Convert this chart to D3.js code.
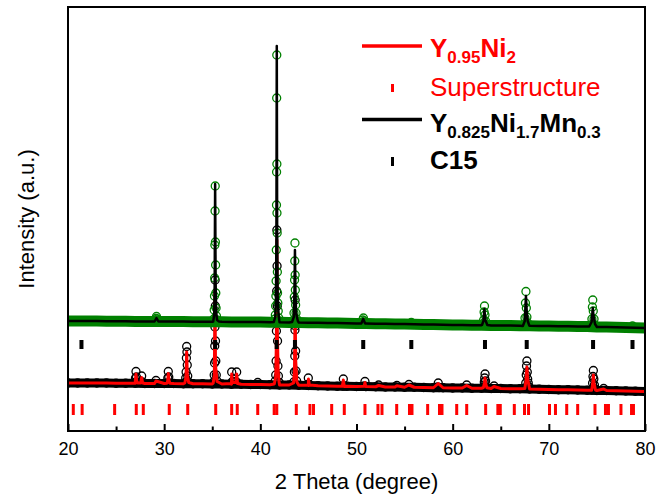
<!DOCTYPE html>
<html>
<head>
<meta charset="utf-8">
<script src="https://cdn.jsdelivr.net/npm/d3@7"></script>
<style>
	body { margin: 0; background: #fff; }
	svg { display: block; font-family: "Liberation Sans", Arial, sans-serif; }
</style>
</head>
<body>
<svg id="chart" width="666" height="494"></svg>
<script>
var xTicks = [20, 30, 40, 50, 60, 70, 80];
var xMinorTicks = [25, 35, 45, 55, 65, 75];

// flat background, one reading per degree from 20 to 80
var upperBackground = [
	220, 220, 220, 220, 219.5, 219.5, 219.5, 219, 219, 219, 219,
	219, 219, 218.5, 218.5, 218.5, 218.5, 218, 218, 218, 218,
	217.5, 217.5, 217, 217, 216.5, 216.5, 216, 216, 215.5, 215,
	215, 214.5, 214.5, 214, 214, 213.5, 213, 213, 212.5, 212,
	212, 211.5, 211.5, 211, 211, 211, 210.5, 210.5, 210, 210,
	209.5, 209.5, 209, 209, 208, 208, 207.5, 207, 206.5, 206
];
var lowerBackground = [
	96, 96, 96, 96, 96, 95.5, 95.5, 95.5, 95, 95, 95,
	95, 94.5, 94.5, 94.5, 94, 94, 93.5, 93.5, 93, 93,
	92.5, 92, 92, 91.5, 91, 90.5, 90, 89.5, 89.5, 89,
	89, 88.5, 88, 88, 87.5, 87.5, 87, 86.5, 86.5, 86,
	86, 85.5, 85.5, 85, 85, 84.5, 84.5, 84, 83.5, 83,
	82.5, 82.5, 82, 81.5, 81, 81, 80.5, 80, 79.5, 79
];

// Y0.825Ni1.7Mn0.3 (upper pattern), [2theta, intensity]
var upperObsPeaks = [
	[29.05, 219], [29.15, 225], [29.2, 229], [29.27, 224], [29.4, 219],
	[35.16, 224], [35.2, 242], [35.23, 270], [35.25, 306], [35.27, 372], [35.29, 440], [35.31, 490],
	[35.33, 378], [35.35, 332], [35.37, 276], [35.4, 246], [35.44, 230], [35.5, 222],
	[41.52, 224], [41.56, 232], [41.59, 250], [41.62, 270], [41.64, 300], [41.66, 362], [41.68, 452],
	[41.69, 518], [41.7, 666], [41.71, 752], [41.72, 534], [41.73, 436], [41.75, 396], [41.77, 318],
	[41.79, 276], [41.82, 256], [41.86, 240], [41.92, 226], [41.97, 220],
	[43.46, 222], [43.5, 236], [43.53, 268], [43.56, 302], [43.58, 340], [43.6, 376], [43.62, 312],
	[43.64, 282], [43.67, 252], [43.71, 236], [43.78, 224],
	[50.55, 216], [50.65, 222], [50.72, 226], [50.8, 220], [50.9, 215],
	[55.7, 217],
	[63.15, 214], [63.22, 222], [63.27, 238], [63.31, 250], [63.36, 232], [63.42, 220], [63.5, 213],
	[67.45, 214], [67.52, 226], [67.57, 256], [67.62, 279], [67.66, 246], [67.72, 228], [67.8, 216], [67.9, 211],
	[74.4, 212], [74.48, 224], [74.53, 248], [74.57, 262], [74.62, 240], [74.7, 224], [74.8, 212],
	[78.7, 210]
];
var upperCalcPeaks = [
	[29.0, 219], [29.2, 226], [29.4, 219],
	[35.1, 219], [35.2, 232], [35.25, 290], [35.3, 494], [35.35, 300], [35.4, 240], [35.5, 222], [35.7, 219],
	[41.4, 218], [41.55, 228], [41.62, 260], [41.67, 380], [41.71, 770], [41.75, 400], [41.8, 270], [41.9, 232], [41.98, 220],
	[43.3, 218], [43.48, 228], [43.55, 280], [43.6, 362], [43.65, 280], [43.72, 236], [43.9, 220],
	[50.5, 215], [50.7, 224], [50.9, 215],
	[63.05, 212], [63.2, 220], [63.3, 244], [63.4, 222], [63.6, 212],
	[67.3, 210], [67.5, 220], [67.62, 270], [67.7, 240], [67.8, 220], [67.97, 211],
	[74.2, 209], [74.45, 218], [74.57, 246], [74.65, 230], [74.8, 214], [74.97, 209]
];

// Y0.95Ni2 (lower pattern)
var lowerObsPeaks = [
	[26.95, 97], [27.02, 106], [27.07, 119], [27.12, 108], [27.2, 97],
	[27.58, 97], [27.66, 110], [27.74, 98],
	[29.15, 101],
	[30.3, 96], [30.38, 106], [30.43, 119], [30.48, 108], [30.56, 96],
	[32.18, 97], [32.24, 106], [32.28, 118], [32.31, 146], [32.34, 169], [32.37, 158], [32.4, 132], [32.45, 110], [32.52, 98],
	[35.14, 98], [35.2, 112], [35.24, 136], [35.26, 170], [35.28, 208], [35.3, 302], [35.32, 250],
	[35.34, 180], [35.37, 140], [35.42, 112], [35.5, 100],
	[36.93, 95], [37.02, 118], [37.1, 99],
	[37.46, 99], [37.54, 118], [37.62, 96],
	[39.73, 97],
	[41.55, 100], [41.6, 112], [41.64, 140], [41.67, 200], [41.7, 280], [41.72, 402], [41.74, 330],
	[41.76, 250], [41.79, 180], [41.83, 130], [41.88, 110], [41.97, 97],
	[43.48, 98], [43.54, 118], [43.58, 150], [43.6, 202], [43.62, 262], [43.64, 210], [43.67, 160], [43.71, 120], [43.78, 100],
	[44.9, 93], [44.99, 106], [45.08, 93],
	[48.54, 90], [48.63, 104], [48.72, 90],
	[50.8, 90], [50.88, 99], [50.96, 89],
	[52.3, 92], [54.2, 91], [55.45, 93],
	[58.42, 88], [58.5, 96], [58.58, 87],
	[61.46, 92],
	[63.22, 88], [63.29, 98], [63.33, 106], [63.37, 114], [63.42, 100], [63.5, 88],
	[64.3, 90],
	[67.52, 86], [67.6, 96], [67.65, 112], [67.68, 130], [67.72, 140], [67.76, 118], [67.8, 104], [67.86, 96], [67.95, 88],
	[74.48, 82], [74.55, 96], [74.59, 109], [74.63, 121], [74.68, 104], [74.74, 92], [74.82, 84],
	[75.7, 85]
];
var lowerCalcPeaks = [
	[26.9, 95.5], [27.0, 100], [27.07, 114], [27.14, 100], [27.25, 96],
	[27.56, 96], [27.66, 107], [27.76, 96],
	[29.15, 100],
	[30.3, 95.5], [30.37, 101], [30.43, 115], [30.5, 101], [30.6, 95.5],
	[32.15, 96], [32.27, 108], [32.34, 158], [32.41, 112], [32.55, 97],
	[35.1, 96], [35.22, 112], [35.28, 282], [35.34, 130], [35.5, 99],
	[36.93, 95], [37.02, 114], [37.1, 97],
	[37.45, 97], [37.54, 114], [37.63, 95],
	[41.45, 94], [41.6, 108], [41.67, 180], [41.72, 382], [41.77, 200], [41.85, 120], [41.95, 98],
	[43.45, 96], [43.55, 118], [43.62, 250], [43.68, 140], [43.8, 98],
	[44.9, 92], [45.0, 104], [45.1, 92],
	[48.53, 89.5], [48.63, 102], [48.73, 89],
	[50.8, 89.5], [50.88, 97], [50.96, 89],
	[52.3, 91], [54.2, 90.5], [55.45, 92], [58.5, 95], [61.46, 91],
	[63.2, 87], [63.3, 96], [63.36, 106], [63.43, 96], [63.55, 86.5],
	[64.3, 89],
	[67.5, 85], [67.62, 100], [67.72, 128], [67.8, 104], [67.9, 94], [67.98, 86],
	[74.45, 81.5], [74.56, 94], [74.63, 112], [74.7, 96], [74.85, 82],
	[75.7, 84]
];

// reflection markers
var superstructureTicks = [
	20.55, 21.47, 24.85, 27.1, 27.83, 30.53, 32.45, 35.36, 37.02, 37.6, 39.73, 41.44, 41.71,
	43.74, 45.16, 45.53, 47.42, 48.73, 50.88, 52.23, 52.65, 54.18, 55.51, 55.77, 57.4, 58.63, 58.89,
	60.42, 61.46, 63.43, 64.7, 64.95, 66.41, 67.47, 67.89, 70.07, 70.69, 71.86, 73.0, 74.8, 75.89,
	76.2, 77.5, 78.6, 78.8
];
var c15Ticks = [21.4, 35.3, 41.7, 43.6, 50.7, 55.7, 63.36, 67.7, 74.6, 78.7];

var width = 666, height = 494,
	margin = { top: 7, right: 21, bottom: 63, left: 68 };

var svg = d3.select('#chart');

var x = d3.scaleLinear().domain([20, 80]).range([margin.left, width - margin.right]);
var y = d3.scaleLinear().domain([0, 848]).range([height - margin.bottom, margin.top]);

var line = d3.line()
	.x(function (d) { return x(d[0]); })
	.y(function (d) { return y(d[1]); });

function backgroundPoints(bg) {
	return bg.map(function (v, i) { return [20 + i, v]; });
}

function withBackground(bg, peaks) {
	return backgroundPoints(bg).concat(peaks).sort(function (a, b) { return a[0] - b[0]; });
}

var upperObs = withBackground(upperBackground, upperObsPeaks),
	upperCalc = withBackground(upperBackground, upperCalcPeaks),
	lowerObs = withBackground(lowerBackground, lowerObsPeaks),
	lowerCalc = withBackground(lowerBackground, lowerCalcPeaks);

svg.append('clipPath')
	.attr('id', 'plot-clip')
	.append('rect')
		.attr('x', margin.left)
		.attr('y', margin.top)
		.attr('width', width - margin.left - margin.right)
		.attr('height', height - margin.top - margin.bottom);

var plot = svg.append('g').attr('clip-path', 'url(#plot-clip)');

function drawPattern(obs, calc, bg, obsColor, calcColor, bandWidth, calcWidth) {
	// dense measured points along the background merge into one band
	plot.append('path')
		.datum(backgroundPoints(bg))
		.attr('d', line)
		.attr('fill', 'none')
		.attr('stroke', obsColor)
		.attr('stroke-width', bandWidth)
		.attr('stroke-linejoin', 'round');

	plot.append('g')
		.selectAll('circle')
		.data(obs)
		.join('circle')
			.attr('cx', function (d) { return x(d[0]); })
			.attr('cy', function (d) { return y(d[1]); })
			.attr('r', 4)
			.attr('fill', 'none')
			.attr('stroke', obsColor)
			.attr('stroke-width', 1.3);

	plot.append('path')
		.datum(calc)
		.attr('d', line)
		.attr('fill', 'none')
		.attr('stroke', calcColor)
		.attr('stroke-width', calcWidth)
		.attr('stroke-linejoin', 'round');
}

drawPattern(lowerObs, lowerCalc, lowerBackground, '#000', '#ff0000', 9, 3);
drawPattern(upperObs, upperCalc, upperBackground, '#008000', '#000', 11, 2.5);

// reflection ticks
plot.append('g')
	.selectAll('rect')
	.data(superstructureTicks)
	.join('rect')
		.attr('x', function (d) { return x(d) - 1.5; })
		.attr('y', 404)
		.attr('width', 3)
		.attr('height', 11)
		.attr('fill', '#ff0000');

plot.append('g')
	.selectAll('rect')
	.data(c15Ticks)
	.join('rect')
		.attr('x', function (d) { return x(d) - 2; })
		.attr('y', 340)
		.attr('width', 4)
		.attr('height', 9)
		.attr('fill', '#000');

// axes
var xAxis = svg.append('g')
	.attr('transform', 'translate(0,' + (height - margin.bottom) + ')')
	.call(d3.axisBottom(x).tickValues(xTicks).tickSize(-7).tickPadding(11).tickFormat(d3.format('d')));

xAxis.select('.domain').remove();
xAxis.selectAll('line').attr('stroke', '#000').attr('stroke-width', 2);
xAxis.selectAll('text')
	.attr('fill', '#000')
	.style('font-size', '18px');

var xMinor = svg.append('g')
	.attr('transform', 'translate(0,' + (height - margin.bottom) + ')')
	.call(d3.axisBottom(x).tickValues(xMinorTicks).tickSize(-4.5).tickFormat(''));

xMinor.select('.domain').remove();
xMinor.selectAll('line').attr('stroke', '#000').attr('stroke-width', 2);

svg.append('rect')
	.attr('x', margin.left)
	.attr('y', margin.top)
	.attr('width', width - margin.left - margin.right)
	.attr('height', height - margin.top - margin.bottom)
	.attr('fill', 'none')
	.attr('stroke', '#000')
	.attr('stroke-width', 2);

svg.append('text')
	.attr('x', (margin.left + width - margin.right) / 2)
	.attr('y', 489)
	.attr('text-anchor', 'middle')
	.style('font-size', '22px')
	.text('2 Theta (degree)');

svg.append('text')
	.attr('transform', 'translate(34,' + ((margin.top + height - margin.bottom) / 2) + ') rotate(-90)')
	.attr('text-anchor', 'middle')
	.style('font-size', '22px')
	.text('Intensity (a.u.)');

// legend
var legend = svg.append('g');

function legendText(yPos, color, bold, parts) {
	var t = legend.append('text')
		.attr('x', 430)
		.attr('y', yPos)
		.attr('fill', color)
		.style('font-size', '26px')
		.style('font-weight', bold ? 'bold' : 'normal');
	var shift = 0;
	parts.forEach(function (p) {
		var sub = p[1];
		var dy = sub ? 6 - shift : -shift;
		shift = sub ? 6 : 0;
		t.append('tspan')
			.attr('dy', dy)
			.style('font-size', sub ? '17px' : '26px')
			.text(p[0]);
	});
}

legend.append('line')
	.attr('x1', 362).attr('x2', 422).attr('y1', 46).attr('y2', 46)
	.attr('stroke', '#ff0000').attr('stroke-width', 3.5);
legendText(57, '#ff0000', true, [['Y', false], ['0.95', true], ['Ni', false], ['2', true]]);

legend.append('rect')
	.attr('x', 391).attr('y', 84).attr('width', 3).attr('height', 8)
	.attr('fill', '#ff0000');
legendText(96, '#ff0000', false, [['Superstructure', false]]);

legend.append('line')
	.attr('x1', 362).attr('x2', 422).attr('y1', 119.5).attr('y2', 119.5)
	.attr('stroke', '#000').attr('stroke-width', 3.5);
legendText(131.5, '#000', true, [['Y', false], ['0.825', true], ['Ni', false], ['1.7', true], ['Mn', false], ['0.3', true]]);

legend.append('rect')
	.attr('x', 391).attr('y', 157).attr('width', 3).attr('height', 9)
	.attr('fill', '#000');
legendText(169, '#000', true, [['C15', false]]);
</script>
</body>
</html>
